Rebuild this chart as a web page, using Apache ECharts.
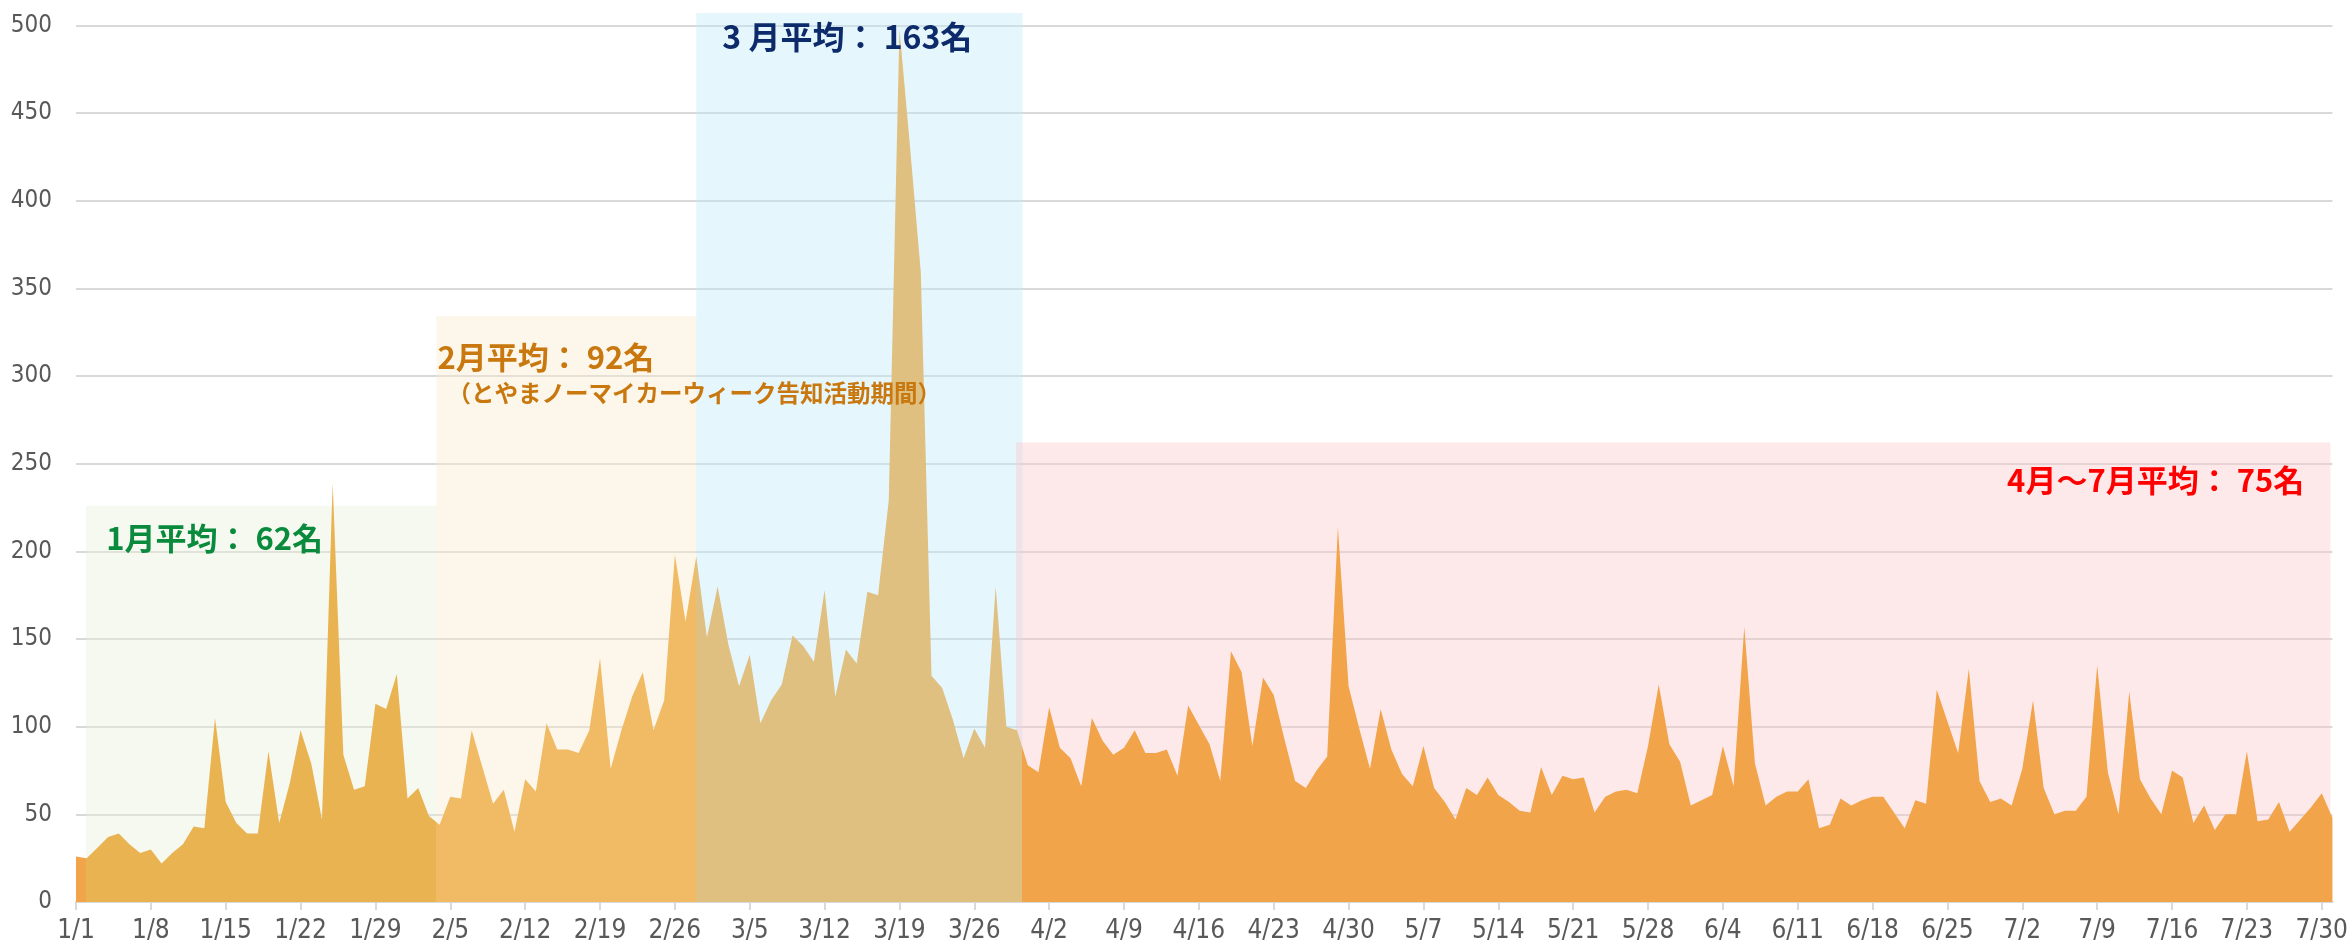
<!DOCTYPE html>
<html>

<head>
    <meta charset="utf-8">
    <script src="https://cdn.jsdelivr.net/npm/echarts@6/dist/echarts.min.js"></script>
    <title>Daily count</title>
    <style>
        html, body { margin: 0; padding: 0; background: #fff; }
    </style>
</head>

<body>
    <div id="main" style="width:2351px;height:946px;"></div>
    <script type="text/javascript">
        // daily values, 2021/1/1 - 7/31
        var jan = [26, 25, 31, 37, 39, 33, 28, 30, 22, 28, 33, 43, 42, 105, 57, 45, 39, 39, 86, 45, 68, 98, 79, 47, 239, 84, 64, 66, 113, 110, 130];
        var feb = [59, 65, 49, 44, 60, 59, 98, 77, 56, 64, 40, 70, 63, 102, 87, 87, 85, 98, 139, 76, 98, 117, 131, 98, 115, 198, 160, 197];
        var mar = [151, 180, 147, 123, 141, 102, 115, 124, 152, 146, 137, 178, 117, 144, 136, 177, 175, 229, 498, 430, 359, 129, 122, 104, 82, 99, 88, 180, 100, 98, 78];
        var apr = [74, 111, 88, 82, 66, 105, 92, 84, 88, 98, 85, 85, 87, 72, 112, 101, 90, 69, 143, 131, 89, 128, 118, 93, 69, 65, 75, 83, 214, 123];
        var may = [99, 76, 110, 87, 73, 66, 89, 65, 57, 47, 65, 61, 71, 61, 57, 52, 51, 77, 61, 72, 70, 71, 51, 60, 63, 64, 62, 89, 124, 90, 80];
        var jun = [55, 58, 61, 89, 66, 157, 79, 55, 60, 63, 63, 70, 42, 44, 59, 55, 58, 60, 60, 51, 42, 58, 56, 121, 103, 85, 133, 69, 57, 59];
        var jul = [55, 76, 115, 65, 50, 52, 52, 60, 135, 74, 50, 120, 70, 59, 50, 75, 71, 45, 55, 41, 50, 50, 86, 46, 47, 57, 40, 47, 54, 62, 48];

        // x tick labels (day index from 1/1)
        var tickDays = [0, 7, 14, 21, 28, 35, 42, 49, 56, 63, 70, 77, 84, 91, 98, 105, 112, 119, 126, 133, 140, 147, 154, 161, 168, 175, 182, 189, 196, 203, 210];

        // highlighted periods (day index bounds, top value) and their notes
        var periodFrom = [0.95, 33.7, 58.0, 87.9];
        var periodTo = [33.7, 58.0, 88.5, 210.8];
        var periodTop = [226, 334, 507, 262];
        var periodNote = ['1月平均： 62名', '2月平均： 92名', '3 月平均： 163名', '4月～7月平均： 75名'];
        var febSubNote = '（とやまノーマイカーウィーク告知活動期間）';

        var counts = jan.concat(feb, mar, apr, may, jun, jul);
        var points = counts.map(function(v, i) { return [i, v]; });

        function dayLabel(i) {
            var d = new Date(2021, 0, 1 + i);
            return (d.getMonth() + 1) + '/' + d.getDate();
        }

        var cjk = "'Noto Sans CJK JP', 'Noto Sans', sans-serif";
        var narrow = "'Liberation Sans Narrow', 'DejaVu Sans Condensed', 'Roboto', sans-serif";

        var bgColors = ['rgba(232,240,217,0.4)', 'rgba(247,235,202,0.4)', 'rgba(192,232,250,0.4)', 'rgba(252,200,202,0.4)'];
        var labelColors = ['#0A8A3C', '#C8780E', '#0D2B6B', '#FF0000'];

        var areas = periodFrom.map(function(f, i) {
            return [{
                xAxis: f,
                yAxis: 0,
                itemStyle: { color: bgColors[i] }
            }, {
                xAxis: periodTo[i],
                yAxis: periodTop[i]
            }];
        });

        var myChart = echarts.init(document.getElementById('main'));

        var option = {
            animation: false,
            backgroundColor: '#fff',
            grid: {
                left: 76,
                right: 18,
                top: 13,
                bottom: 44
            },
            xAxis: {
                type: 'value',
                min: 0,
                max: counts.length - 1,
                interval: 7,
                axisLine: { lineStyle: { color: '#D9D9D9', width: 2 } },
                axisTick: {
                    show: true,
                    length: 8,
                    customValues: tickDays,
                    lineStyle: { color: '#D9D9D9', width: 2 }
                },
                axisLabel: {
                    customValues: tickDays,
                    color: '#595959',
                    fontSize: 26,
                    fontFamily: narrow,
                    margin: 16,
                    formatter: function(v) {
                        return v % 7 === 0 ? dayLabel(v) : '';
                    }
                },
                splitLine: { show: false }
            },
            yAxis: {
                type: 'value',
                min: 0,
                max: 507,
                interval: 50,
                axisLine: { show: false },
                axisTick: { show: false },
                axisLabel: {
                    color: '#595959',
                    fontSize: 24,
                    fontFamily: narrow,
                    margin: 24,
                    showMaxLabel: false,
                    formatter: function(v) {
                        return v % 50 === 0 ? String(v) : '';
                    }
                },
                splitLine: {
                    showMaxLine: false,
                    lineStyle: { color: '#D9D9D9', width: 2 }
                }
            },
            visualMap: {
                type: 'piecewise',
                show: false,
                dimension: 0,
                seriesIndex: 0,
                pieces: [
                    { lt: periodFrom[0], color: '#F2A44A' },
                    { gte: periodFrom[0], lt: periodTo[0], color: '#E9B352' },
                    { gte: periodTo[0], lt: periodTo[1], color: '#F1BB65' },
                    { gte: periodTo[1], lt: periodTo[2], color: '#DFC080' },
                    { gte: periodTo[2], color: '#F2A44A' }
                ]
            },
            series: [{
                type: 'line',
                data: points,
                symbol: 'none',
                showSymbol: false,
                lineStyle: { width: 0 },
                areaStyle: { opacity: 1 },
                z: 3,
                markArea: {
                    silent: true,
                    data: areas
                }
            }]
        };

        myChart.setOption(option);

        // period notes, placed relative to each shaded box
        var noteOffset = [[20, 17], [1, 25], [26, 8], [-26, 22]];
        var noteSize = [31, 31, 32, 31];
        var notes = [];
        periodFrom.forEach(function(f, i) {
            var anchorX = i === 3 ? periodTo[i] : f;
            var p = myChart.convertToPixel({ gridIndex: 0 }, [anchorX, periodTop[i]]);
            notes.push({
                type: 'text',
                z: 100,
                x: p[0] + noteOffset[i][0],
                y: p[1] + noteOffset[i][1],
                style: {
                    text: periodNote[i],
                    fill: labelColors[i],
                    fontFamily: cjk,
                    fontWeight: 'bold',
                    fontSize: noteSize[i],
                    align: i === 3 ? 'right' : 'left',
                    verticalAlign: 'top'
                }
            });
            if (i === 1) {
                notes.push({
                    type: 'text',
                    z: 100,
                    x: p[0] + 11,
                    y: p[1] + 65,
                    style: {
                        text: febSubNote,
                        fill: labelColors[i],
                        fontFamily: cjk,
                        fontWeight: 'bold',
                        fontSize: 23.5,
                        verticalAlign: 'top'
                    }
                });
            }
        });
        myChart.setOption({ graphic: notes });
    </script>
</body>

</html>
